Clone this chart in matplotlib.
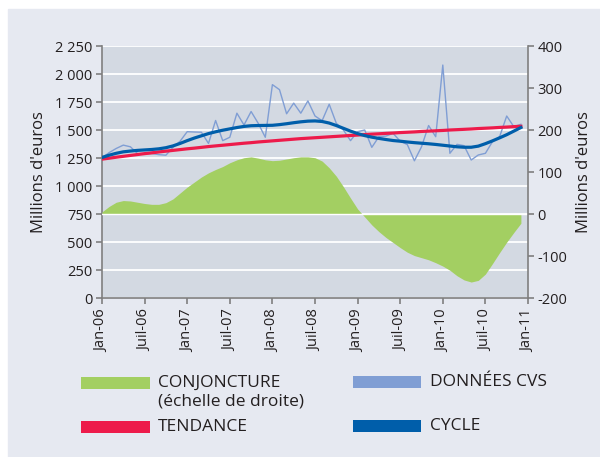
import numpy as np
import matplotlib.pyplot as plt
from matplotlib.patches import Rectangle

plt.rcParams['font.family'] = ['Open Sans', 'DejaVu Sans']

# --- données (mensuelles, jan-06 -> déc-10) ---
mois = np.arange(60)

donnees_cvs = [1250, 1298, 1335, 1365, 1350, 1290, 1285, 1290, 1280, 1275,
               1345, 1400, 1485, 1482, 1480, 1380, 1585, 1405, 1435, 1650,
               1545, 1665, 1560, 1435, 1905, 1860, 1645, 1740, 1650, 1760,
               1625, 1583, 1730, 1560, 1500, 1405, 1485, 1500, 1345, 1440,
               1446, 1470, 1400, 1370, 1225, 1350, 1540, 1440, 2080, 1292,
               1372, 1360, 1232, 1277, 1292, 1396, 1440, 1625, 1530, 1551]

tendance = [1240, 1248, 1257, 1265, 1273, 1281, 1289, 1296, 1304, 1311,
            1318, 1325, 1332, 1338, 1345, 1352, 1358, 1364, 1370, 1376,
            1382, 1387, 1393, 1398, 1403, 1408, 1413, 1418, 1423, 1427,
            1431, 1435, 1439, 1443, 1447, 1451, 1455, 1459, 1463, 1466,
            1470, 1473, 1477, 1480, 1483, 1487, 1490, 1493, 1496, 1500,
            1503, 1506, 1509, 1513, 1516, 1519, 1523, 1526, 1530, 1533]

cycle = [1255, 1275, 1292, 1305, 1312, 1318, 1322, 1326, 1332, 1342,
         1358, 1380, 1405, 1428, 1448, 1468, 1484, 1498, 1510, 1522,
         1532, 1538, 1540, 1541, 1542, 1548, 1556, 1565, 1573, 1579,
         1581, 1576, 1562, 1540, 1515, 1490, 1468, 1450, 1436, 1425,
         1415, 1406, 1400, 1393, 1387, 1382, 1377, 1371, 1364, 1357,
         1350, 1346, 1346, 1356, 1378, 1403, 1430, 1458, 1490, 1522]

conjoncture = [5, 18, 28, 32, 31, 28, 25, 23, 23, 27,
               36, 50, 64, 76, 88, 98, 106, 113, 122, 129,
               134, 136, 133, 129, 127, 128, 131, 134, 136, 136,
               134, 126, 110, 90, 65, 38, 12, -7, -26, -42,
               -56, -68, -80, -91, -99, -104, -109, -116, -124, -134,
               -147, -157, -162, -158, -143, -118, -92, -67, -44, -22]

x_ticks = np.arange(0, 61, 6)
x_labels = ['Jan-06', 'Juil-06', 'Jan-07', 'Juil-07', 'Jan-08', 'Juil-08',
            'Jan-09', 'Juil-09', 'Jan-10', 'Juil-10', 'Jan-11']
left_ticks = np.arange(0, 2251, 250)
left_labels = ['0', '250', '500', '750', '1 000', '1 250', '1 500',
               '1 750', '2 000', '2 250']
right_ticks = np.arange(-200, 401, 100)
right_labels = ['-200', '-100', '0', '100', '200', '300', '400']

# couleurs
c_fond = '#E6E9F1'
c_zone = '#D3D9E2'
c_vert = '#A3CF62'
c_rouge = '#ED1B4B'
c_cvs = '#809ED4'
c_cycle = '#005EAA'
c_texte = '#231F20'
c_axe = '#7F7F7F'

W, H = 600, 457
fig = plt.figure(figsize=(6, 4.57), dpi=100, facecolor='white')
fig.add_artist(Rectangle((8 / W, 0), 1, 1 - 9 / H, transform=fig.transFigure,
                         color=c_fond, zorder=-10))

ax = fig.add_axes([102 / W, 1 - 298 / H, 426 / W, 252 / H])
ax.set_facecolor(c_zone)
ax.set_xlim(0, 60)
ax.set_ylim(0, 2250)
ax.yaxis.grid(True, color='white', lw=1.3)
ax.set_axisbelow(True)

ax2 = ax.twinx()
ax2.set_ylim(-200, 400)

# conjoncture sur l'échelle de droite
ax2.fill_between(mois, conjoncture, 0, color=c_vert, lw=0, zorder=1)
ax2.axhline(0, color='white', lw=1.0, zorder=2)

# séries sur l'échelle de gauche (dessinées devant la zone verte)
ax2.plot(mois, donnees_cvs, color=c_cvs, lw=1.0, transform=ax.transData, zorder=3)
ax2.plot(mois, tendance, color=c_rouge, lw=2.3, transform=ax.transData, zorder=4)
ax2.plot(mois, cycle, color=c_cycle, lw=2.3, transform=ax.transData, zorder=5)

# axes
for s in ['top', 'right']:
    ax.spines[s].set_visible(False)
for s in ['top', 'left', 'bottom']:
    ax2.spines[s].set_visible(False)
for a, s in [(ax, 'left'), (ax, 'bottom'), (ax2, 'right')]:
    a.spines[s].set_color(c_axe)
    a.spines[s].set_linewidth(1.2)

ax.set_xticks(x_ticks)
ax.set_xticklabels(x_labels, rotation=90, fontsize=10.5, color=c_texte)
ax.set_yticks(left_ticks)
ax.set_yticklabels(left_labels, fontsize=10.5, color=c_texte)
ax2.set_yticks(right_ticks)
ax2.set_yticklabels(right_labels, fontsize=10.5, color=c_texte)
ax.tick_params(axis='x', direction='out', length=4, width=1.2, color=c_axe, pad=4)
ax.tick_params(axis='y', direction='out', length=4, width=1.2, color=c_axe, pad=3)
ax2.tick_params(axis='y', direction='out', length=4, width=1.2, color=c_axe, pad=3)

ax.set_ylabel("Millions d'euros", fontsize=12, color=c_texte, labelpad=6)
ax2.set_ylabel("Millions d'euros", fontsize=12, color=c_texte, labelpad=6)

# légende
def patch(x0, y0, x1, y1, col):
    fig.add_artist(Rectangle((x0 / W, 1 - y1 / H), (x1 - x0) / W, (y1 - y0) / H,
                             transform=fig.transFigure, color=col, lw=0))

def texte(x, y, s):
    fig.text(x / W, 1 - y / H, s, fontsize=12.5, color=c_texte, va='center', ha='left')

patch(81, 377, 150, 389, c_vert)
texte(158, 383, 'CONJONCTURE')
texte(158, 402, '(échelle de droite)')
patch(81, 421, 150, 433, c_rouge)
texte(158, 427, 'TENDANCE')
patch(353, 376, 421, 388, c_cvs)
texte(430, 382, 'DONNÉES CVS')
patch(353, 420, 421, 432, c_cycle)
texte(430, 426, 'CYCLE')

fig.savefig('out.png', dpi=100, facecolor=fig.get_facecolor())
